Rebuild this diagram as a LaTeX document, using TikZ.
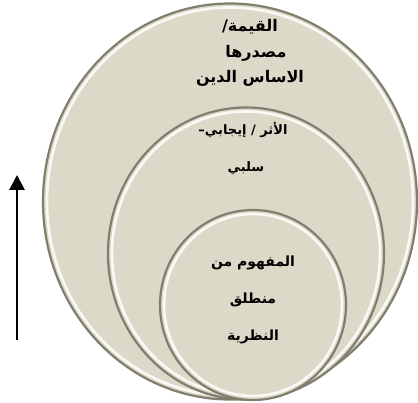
\documentclass[tikz,border=0pt]{standalone}
\usepackage{fontspec}
\newfontfamily\arabicfont[Script=Arabic]{DejaVu Sans}
\TeXXeTstate=1
\usetikzlibrary{shapes.geometric,arrows.meta}
\definecolor{diskfill}{RGB}{221,217,201}
\definecolor{rimdark}{RGB}{128,126,108}
\tikzset{
  disk/.style={ellipse, draw=rimdark, line width=2.2pt, fill=diskfill, inner sep=0pt},
  rimlight/.style={draw=white, line width=2.6pt, opacity=0.85},
  label/.style={font=\arabicfont\bfseries, text=black, inner sep=0pt, anchor=center},
  big/.style={label, font=\arabicfont\bfseries\fontsize{16}{18}\selectfont},
  mid/.style={label, font=\arabicfont\bfseries\fontsize{13}{15}\selectfont},
  small/.style={label, font=\arabicfont\bfseries\fontsize{14}{16}\selectfont},
  uparrow/.style={line width=2.8pt, -{Triangle[width=15pt,length=15pt]}}
}
\begin{document}
\begin{tikzpicture}[x=1pt,y=-1pt]
\useasboundingbox (0,0) rectangle (418,403);
% outer disk
\node[disk, minimum width=374pt, minimum height=396pt] (outer) at (230,201.5) {};
\draw[rimlight] (outer.center) ellipse [x radius=183, y radius=194];
% middle disk
\node[disk, minimum width=276pt, minimum height=292pt] (middle) at (246,253.5) {};
\draw[rimlight] (middle.center) ellipse [x radius=134, y radius=142];
% inner disk
\node[disk, minimum width=186pt, minimum height=190pt] (inner) at (253,305) {};
\draw[rimlight] (inner.center) ellipse [x radius=89, y radius=91];
% texts
\node[big] (t1) at (250,27) {\beginR القيمة/\endR};
\node[big] (t2) at (256,53) {\beginR مصدرها\endR};
\node[big] (t3) at (250,78) {\beginR الاساس الدين\endR};
\node[mid] (m1) at (243,130) {\beginR الأثر / إيجابي–\endR};
\node[mid] (m2) at (246,168) {\beginR سلبي\endR};
\node[small] (i1) at (253,263) {\beginR المفهوم من\endR};
\node[small] (i2) at (253,300) {\beginR منطلق\endR};
\node[small] (i3) at (253,337) {\beginR النظرية\endR};
% arrow
\coordinate (abot) at (17,340);
\coordinate (atop) at (17,175);
\draw[uparrow] (abot) -- (atop);
\end{tikzpicture}
\end{document}
